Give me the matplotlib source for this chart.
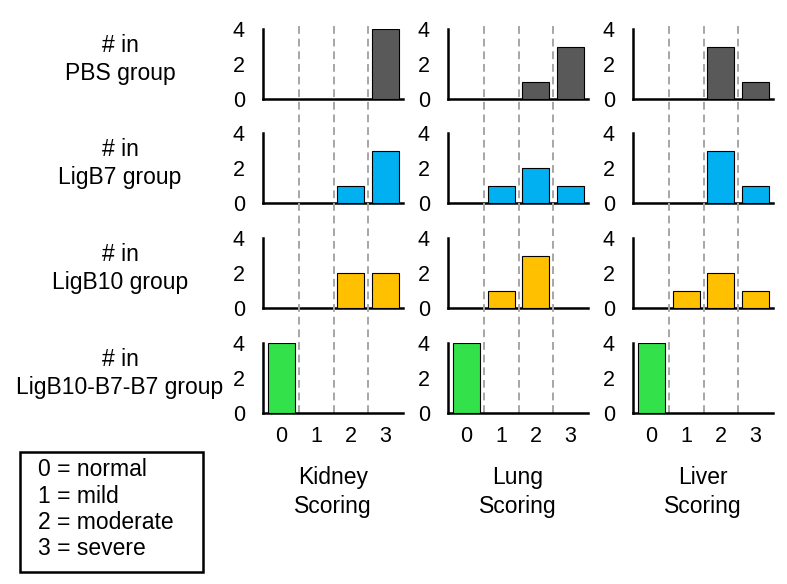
import matplotlib
matplotlib.use("Agg")
import matplotlib.pyplot as plt
from matplotlib.patches import Rectangle
from matplotlib.transforms import blended_transform_factory

plt.rcParams['font.family'] = ['Liberation Sans', 'DejaVu Sans']

scores = [0, 1, 2, 3]
organs = ["Kidney\nScoring", "Lung\nScoring", "Liver\nScoring"]
groups = ["# in\nPBS group", "# in\nLigB7 group", "# in\nLigB10 group", "# in\nLigB10-B7-B7 group"]
colors = ["#595959", "#00b0f0", "#ffc000", "#33e14a"]

# counts per score 0..3, one list per organ (kidney, lung, liver)
pbs = [[0, 0, 0, 4], [0, 0, 1, 3], [0, 0, 3, 1]]
ligb7 = [[0, 0, 1, 3], [0, 1, 2, 1], [0, 0, 3, 1]]
ligb10 = [[0, 0, 2, 2], [0, 1, 3, 0], [0, 1, 2, 1]]
ligb10_b7_b7 = [[4, 0, 0, 0], [4, 0, 0, 0], [4, 0, 0, 0]]
counts = [pbs, ligb7, ligb10, ligb10_b7_b7]

legend_lines = ["0 = normal", "1 = mild", "2 = moderate", "3 = severe"]

W, H = 787, 584
fig = plt.figure(figsize=(W / 100, H / 100), dpi=100)

col_left = [263, 448, 633]
col_width = 140
row_top = [29, 133, 238, 343]
row_height = 70

axes = []
for r in range(4):
    row_axes = []
    for c in range(3):
        ax = fig.add_axes([col_left[c] / W, 1 - (row_top[r] + row_height) / H,
                           col_width / W, row_height / H])
        ax.patch.set_visible(False)
        ax.bar(scores, counts[r][c], width=0.78, color=colors[r],
               edgecolor="black", linewidth=0.8, zorder=3)
        ax.set_xlim(-0.53, 3.5)
        ax.set_ylim(0, 4)
        ax.set_yticks([0, 2, 4])
        ax.spines["top"].set_visible(False)
        ax.spines["right"].set_visible(False)
        ax.spines["left"].set_linewidth(1.8)
        ax.spines["bottom"].set_linewidth(1.8)
        ax.tick_params(axis="y", length=0, pad=13, labelsize=15.5)
        ax.set_xticks(scores)
        ax.tick_params(axis="x", length=0, pad=9, labelsize=15.5,
                       labelbottom=(r == 3))
        row_axes.append(ax)
    axes.append(row_axes)

# dashed separators running through all rows
for c in range(3):
    ax = axes[3][c]
    tr = blended_transform_factory(ax.transData, fig.transFigure)
    for x in [0.5, 1.5, 2.5]:
        ax.plot([x, x], [1 - 413 / H, 1 - 22 / H], transform=tr,
                color="#a6a6a6", linestyle=(0, (4, 2.5)), linewidth=1.4,
                clip_on=False, zorder=1)

# row labels
for r in range(4):
    yc = row_top[r] + row_height / 2 - 4.5
    fig.text(120 / W, 1 - yc / H, groups[r], ha="center", va="center",
             fontsize=16.5, linespacing=1.3)

# column labels
for c in range(3):
    xc = col_left[c] + col_width / 2
    fig.text(xc / W, 1 - 492 / H, organs[c], ha="center", va="center",
             fontsize=16.5, linespacing=1.3)

# legend box
fig.patches.append(Rectangle((20 / W, 1 - 572 / H), 183 / W, 120 / H,
                             transform=fig.transFigure, fill=False,
                             edgecolor="black", linewidth=1.8))
for i, line in enumerate(legend_lines):
    fig.text(38 / W, 1 - (470 + 26.3 * i) / H, line, ha="left", va="center",
             fontsize=16.5)

fig.savefig("out.png", dpi=100)
